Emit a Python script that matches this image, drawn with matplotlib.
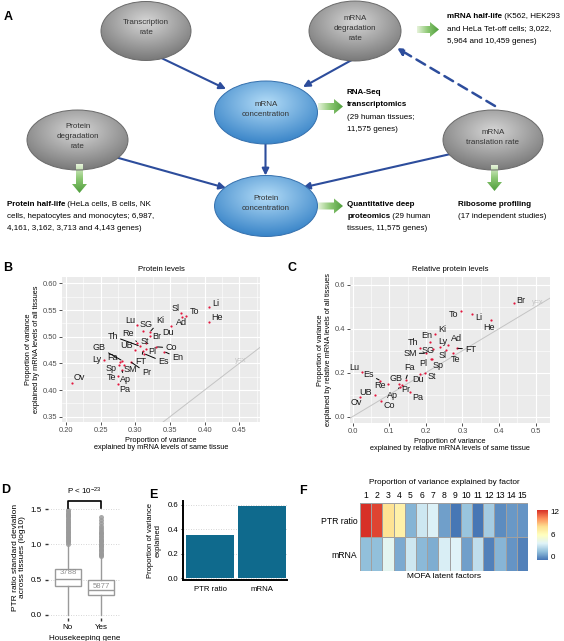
import numpy as np
import matplotlib
matplotlib.use("Agg")
import matplotlib.pyplot as plt
from matplotlib.patches import Ellipse, FancyArrow, FancyArrowPatch
from matplotlib.colors import LinearSegmentedColormap

plt.rcParams["font.family"] = ["Liberation Sans", "DejaVu Sans"]
plt.rcParams["mathtext.fontset"] = "custom"
plt.rcParams["mathtext.rm"] = "Liberation Sans"
plt.rcParams["mathtext.it"] = "Liberation Sans:italic"
plt.rcParams["mathtext.bf"] = "Liberation Sans:bold"

W, H = 564, 641
FS_A = 5.8

# ==========================================================
# DATA
# ==========================================================

tissues = ["Ad", "Ap", "Br", "Co", "Du", "En", "Es", "FT", "Fa", "GB",
           "He", "Ki", "Li", "Lu", "Ly", "Ov", "Pa", "Pl", "Pr", "Re",
           "SG", "SM", "Sl", "Sp", "St", "Te", "Th", "To", "UB"]

# B: protein levels
b_same_tissue = [0.368, 0.280, 0.321, 0.330, 0.351, 0.342, 0.313, 0.311, 0.278, 0.281,
                 0.406, 0.321, 0.406, 0.303, 0.255, 0.208, 0.275, 0.315, 0.293, 0.303,
                 0.311, 0.283, 0.366, 0.276, 0.315, 0.275, 0.306, 0.373, 0.299]
b_all_tissues = [0.5375, 0.438, 0.502, 0.481, 0.520, 0.472, 0.468, 0.474, 0.453, 0.455,
                 0.528, 0.509, 0.555, 0.522, 0.456, 0.414, 0.412, 0.4775, 0.453, 0.489,
                 0.511, 0.446, 0.545, 0.447, 0.4888, 0.427, 0.4825, 0.539, 0.476]

# C: relative protein levels
c_same_tissue = [0.261, 0.129, 0.441, 0.077, 0.184, 0.211, 0.076, 0.284, 0.145, 0.127,
                 0.379, 0.225, 0.325, 0.027, 0.238, 0.020, 0.156, 0.213, 0.136, 0.097,
                 0.220, 0.200, 0.256, 0.218, 0.197, 0.273, 0.184, 0.295, 0.061]
c_all_tissues = [0.326, 0.136, 0.515, 0.073, 0.194, 0.341, 0.164, 0.311, 0.167, 0.148,
                 0.439, 0.376, 0.467, 0.205, 0.315, 0.091, 0.114, 0.261, 0.144, 0.148,
                 0.306, 0.288, 0.303, 0.262, 0.200, 0.288, 0.311, 0.482, 0.098]

# D: PTR ratio SD by housekeeping status
hk_groups = ["No", "Yes"]
hk_counts = ["3788", "5877"]
hk_q1 = [0.41, 0.28]
hk_median = [0.51, 0.35]
hk_q3 = [0.65, 0.49]
hk_whislo = [0.0, 0.0]
hk_whishi = [1.0, 0.82]
hk_outliers_no = [1.01, 1.03, 1.05, 1.06, 1.08, 1.10, 1.11, 1.13, 1.15, 1.17, 1.18,
                  1.20, 1.22, 1.24, 1.25, 1.27, 1.29, 1.31, 1.32, 1.34, 1.36, 1.38,
                  1.40, 1.41, 1.43, 1.45, 1.47, 1.48]
hk_outliers_yes = [0.83, 0.85, 0.87, 0.88, 0.90, 0.92, 0.94, 0.96, 0.97, 0.99, 1.01,
                   1.03, 1.05, 1.06, 1.08, 1.10, 1.12, 1.14, 1.16, 1.18, 1.20, 1.23,
                   1.26, 1.30, 1.34, 1.38]

# E: proportion of variance explained
e_views = ["PTR ratio", "mRNA"]
e_variance = [0.355, 0.59]

# F: MOFA variance explained per factor
f_factors = [str(i) for i in range(1, 16)]
f_views = ["PTR ratio", "mRNA"]
f_ptr = [12.5, 12.0, 7.8, 6.8, 0.9, 3.0, 3.4, 0.3, -0.9, 1.5, -0.9, 1.8, -0.3, 0.1, 0.0]
f_mrna = [1.3, 1.3, 3.8, 0.6, 3.0, 1.1, 0.7, 3.3, 3.5, 0.3, 2.6, -0.6, 1.0, 0.0, -0.6]
f_ticks = [0, 6, 12]

# label offsets (pixels) for the scatter panels
b_offsets = [(-1, -6), (4, -10), (7, -1), (15, -1), (-3, -6), (13, -6), (19, -8), (-2, -11),
             (-8, 4), (-23, 13), (8, 4), (10, 11), (7, 4), (-7, 4), (-7, 1), (8, 5),
             (7, -6), (6, -3), (16, -11), (-9, 9), (3, 6), (7, -4), (-6, 4), (-8, -4),
             (-1, 1), (-7, -2), (-27, 10), (9, 4), (-8, 4)]
c_offsets = [(8, 6), (-7, -9), (7, 3), (8, -5), (-2, -6), (-3, 6), (-12, 6), (14, -1),
             (4, 12), (-3, 6), (-2, -7), (7, 4), (7, -4), (-8, 4), (3, 6), (-4, -6),
             (8, -6), (-7, -4), (3, -5), (-8, -1), (-5, -1), (-16, 0), (-4, -6), (6, -6),
             (7, -4), (3, -6), (-7, 6), (-7, -4), (-9, 3)]


# ==========================================================
# HELPERS
# ==========================================================

def px_axes(fig, x0, y0, x1, y1):
    return fig.add_axes([x0 / W, 1 - y1 / H, (x1 - x0) / W, (y1 - y0) / H])


def gradient_ellipse(ax, cx, cy, w, h, inner, outer, edge, label):
    ell = Ellipse((cx, cy), w, h, facecolor="none", edgecolor=edge, lw=0.7, zorder=3)
    ax.add_patch(ell)
    yy, xx = np.mgrid[-1:1:150j, -1:1:150j]
    r = np.sqrt(xx ** 2 + (yy + 0.3) ** 2)
    cmap = LinearSegmentedColormap.from_list("g", [inner, outer])
    im = ax.imshow(r, cmap=cmap, vmin=0, vmax=1.45, origin="upper",
                   extent=(cx - w / 2, cx + w / 2, cy + h / 2, cy - h / 2),
                   aspect="auto", interpolation="bilinear", zorder=2)
    im.set_clip_path(ell)
    ax.text(cx, cy - 3, label, ha="center", va="center", fontsize=FS_A,
            color="#333333", linespacing=1.6, zorder=4)


def green_arrow(ax, x0, y0, x1, y1):
    arr = FancyArrow(x0, y0, x1 - x0, y1 - y0, width=7, head_width=15,
                     head_length=9, length_includes_head=True,
                     fc="none", ec="none")
    ax.add_patch(arr)
    cmap = LinearSegmentedColormap.from_list("gr", ["#e6f3da", "#8cc773", "#4f9e3c"])
    if y0 == y1:
        grad = np.linspace(0, 1, 60)[None, :]
        ext = (x0, x1, y0 + 8, y0 - 8)
    else:
        grad = np.linspace(0, 1, 60)[:, None]
        ext = (x0 - 8, x0 + 8, y1, y0)
    im = ax.imshow(grad, cmap=cmap, extent=ext, origin="upper", aspect="auto",
                   interpolation="bilinear", zorder=2)
    im.set_clip_path(arr)


def blue_arrow(ax, p0, p1, dashed=False):
    arr = FancyArrowPatch(p0, p1, arrowstyle="-|>", mutation_scale=10,
                          color="#2d4d9c", lw=1.5 if not dashed else 1.8,
                          linestyle=(0, (4, 2.5)) if dashed else "-",
                          shrinkA=0, shrinkB=0, zorder=1)
    ax.add_patch(arr)


def rich_line(ax, x, y, bold, rest):
    t = ax.text(x, y, bold, fontsize=FS_A, fontweight="bold", va="center", ha="left")
    ax.annotate(rest, xy=(1, 0.5), xycoords=t, fontsize=FS_A, va="center", ha="left")


def plain_line(ax, x, y, s, bold=False):
    ax.text(x, y, s, fontsize=FS_A, fontweight="bold" if bold else "normal", va="center")


def gg_style(ax):
    ax.set_facecolor("#EBEBEB")
    for s in ax.spines.values():
        s.set_visible(False)
    ax.grid(True, which="major", color="white", lw=0.8)
    ax.grid(True, which="minor", color="white", lw=0.4)
    ax.set_axisbelow(True)
    ax.tick_params(which="major", length=2, width=0.6, color="#333333",
                   labelsize=5.4, labelcolor="#4d4d4d", pad=1.5)
    ax.tick_params(which="minor", length=0)


def label_points(ax, xs, ys, names, offsets):
    ax.scatter(xs, ys, s=2.5, color="#e3173e", zorder=3, lw=0)
    for x, y, n, (dx, dy) in zip(xs, ys, names, offsets):
        props = None
        if np.hypot(dx, dy) > 10.5:
            props = dict(arrowstyle="-", color="black", lw=0.7, shrinkA=0, shrinkB=1)
        ax.annotate(n, xy=(x, y), xytext=(dx, dy), textcoords="offset pixels",
                    fontsize=6.5, ha="center", va="center", color="#1a1a1a",
                    arrowprops=props, zorder=4)


# ==========================================================
# FIGURE
# ==========================================================

fig = plt.figure(figsize=(W / 100, H / 100), dpi=100)

# ---------------- Panel A: diagram ----------------
axA = fig.add_axes([0, 1 - 240 / H, 1, 240 / H])
axA.axis("off")

blue_arrow(axA, (153, 54), (226, 89))
blue_arrow(axA, (359, 56), (303, 87))
blue_arrow(axA, (265.5, 137), (265.5, 175.5))
blue_arrow(axA, (115, 157), (226, 188))
blue_arrow(axA, (455, 153), (303, 187.5))
blue_arrow(axA, (495, 106), (397, 48), dashed=True)

gray_in, gray_out, gray_edge = "#d6d6d6", "#6f6f6f", "#6a6a6a"
blue_in, blue_out, blue_edge = "#b3dcf7", "#2c7bc3", "#3570ad"
gradient_ellipse(axA, 146, 31, 90, 59, gray_in, gray_out, gray_edge, "Transcription\nrate")
gradient_ellipse(axA, 355, 31, 92, 60, gray_in, gray_out, gray_edge, "mRNA\ndegradation\nrate")
gradient_ellipse(axA, 266, 112.5, 103, 63, blue_in, blue_out, blue_edge, "mRNA\nconcentration")
gradient_ellipse(axA, 77.5, 140, 101, 60, gray_in, gray_out, gray_edge, "Protein\ndegradation\nrate")
gradient_ellipse(axA, 266, 206, 103, 61, blue_in, blue_out, blue_edge, "Protein\nconcentration")
gradient_ellipse(axA, 493, 140, 100, 60, gray_in, gray_out, gray_edge, "mRNA\ntranslation rate")

green_arrow(axA, 417, 29.5, 439, 29.5)
green_arrow(axA, 318, 106.5, 343, 106.5)
green_arrow(axA, 318, 206, 343, 206)
green_arrow(axA, 79.5, 164, 79.5, 193)
green_arrow(axA, 494.5, 165, 494.5, 191)

rich_line(axA, 447, 16.2, "mRNA half-life", " (K562, HEK293")
plain_line(axA, 447, 28.9, "and HeLa Tet-off cells; 3,022,")
plain_line(axA, 447, 41.5, "5,964 and 10,459 genes)")

plain_line(axA, 346.6, 92, "RNA-Seq", bold=True)
plain_line(axA, 346.6, 104.7, "transcriptomics", bold=True)
plain_line(axA, 346.6, 117.3, "(29 human tissues;")
plain_line(axA, 346.6, 129.2, "11,575 genes)")

rich_line(axA, 7, 205, "Protein half-life", " (HeLa cells, B cells, NK")
plain_line(axA, 7, 216.6, "cells, hepatocytes and monocytes; 6,987,")
plain_line(axA, 7, 228.2, "4,161, 3,162, 3,713 and 4,143 genes)")

plain_line(axA, 347.3, 205, "Quantitative deep", bold=True)
rich_line(axA, 347.3, 216.6, "proteomics", " (29 human")
plain_line(axA, 347.3, 228.2, "tissues, 11,575 genes)")

plain_line(axA, 458.5, 205, "Ribosome profiling", bold=True)
plain_line(axA, 458.5, 216.6, "(17 independent studies)")

axA.set_xlim(0, W)
axA.set_ylim(240, 0)

# ---------------- Panel B ----------------
axB = px_axes(fig, 62, 277, 260, 422)
gg_style(axB)
axB.set_xlim(0.194, 0.48)
axB.set_ylim(0.34, 0.612)
axB.set_xticks([0.20, 0.25, 0.30, 0.35, 0.40, 0.45])
axB.set_yticks([0.35, 0.40, 0.45, 0.50, 0.55, 0.60])
axB.set_xticks([0.225, 0.275, 0.325, 0.375, 0.425, 0.475], minor=True)
axB.set_yticks([0.375, 0.425, 0.475, 0.525, 0.575], minor=True)
axB.xaxis.set_major_formatter(matplotlib.ticker.FormatStrFormatter("%.2f"))
axB.yaxis.set_major_formatter(matplotlib.ticker.FormatStrFormatter("%.2f"))
axB.plot([0.3, 0.5], [0.3, 0.5], color="#c4c4c4", lw=0.7, zorder=2)
axB.text(0.452, 0.456, "y=x", fontsize=5.2, color="#c4c4c4", ha="center", va="center")
label_points(axB, b_same_tissue, b_all_tissues, tissues, b_offsets)
axB.set_title("Protein levels", fontsize=5.6, pad=4)
axB.set_xlabel("Proportion of variance\nexplained by mRNA levels of same tissue",
               fontsize=5.3, labelpad=2, linespacing=1.1)
axB.set_ylabel("Proportion of variance\nexplained by mRNA levels of all tissues",
               fontsize=5.3, labelpad=2, linespacing=1.1)

# ---------------- Panel C ----------------
axC = px_axes(fig, 350, 277, 550, 423)
gg_style(axC)
axC.set_xlim(-0.007, 0.539)
axC.set_ylim(-0.029, 0.635)
axC.set_xticks([0.0, 0.1, 0.2, 0.3, 0.4, 0.5])
axC.set_yticks([0.0, 0.2, 0.4, 0.6])
axC.set_xticks([0.05, 0.15, 0.25, 0.35, 0.45], minor=True)
axC.set_yticks([0.1, 0.3, 0.5], minor=True)
axC.plot([-0.1, 0.6], [-0.1, 0.6], color="#c4c4c4", lw=0.7, zorder=2)
axC.text(0.505, 0.52, "y=x", fontsize=5.2, color="#c4c4c4", ha="center", va="center")
label_points(axC, c_same_tissue, c_all_tissues, tissues, c_offsets)
axC.set_title("Relative protein levels", fontsize=5.6, pad=4)
axC.set_xlabel("Proportion of variance\nexplained by relative mRNA levels of same tissue",
               fontsize=5.3, labelpad=2, linespacing=1.1)
axC.set_ylabel("Proportion of variance\nexplained by relative mRNA levels of all tissues",
               fontsize=5.3, labelpad=2, linespacing=1.1)

# ---------------- Panel D ----------------
axD = px_axes(fig, 48, 497, 121, 618)
stats = []
for g, q1, med, q3, lo, hi, fl in zip(hk_groups, hk_q1, hk_median, hk_q3, hk_whislo,
                                      hk_whishi, [hk_outliers_no, hk_outliers_yes]):
    stats.append(dict(label=g, q1=q1, med=med, q3=q3, whislo=lo, whishi=hi, fliers=fl))
gcol = "#9a9a9a"
axD.bxp(stats, positions=[1, 2], widths=0.8, showcaps=False, patch_artist=True,
        boxprops=dict(facecolor="white", edgecolor=gcol, lw=1),
        medianprops=dict(color=gcol, lw=1),
        whiskerprops=dict(color=gcol, lw=1),
        flierprops=dict(marker="o", markerfacecolor=gcol, markeredgecolor="none",
                        markersize=3.6, alpha=0.85))
for i, c in enumerate(hk_counts):
    ypos = [0.6, 0.405][i]
    axD.text(i + 1, ypos, c, fontsize=5.6, color="#8f8f8f", ha="center", va="center")
axD.set_xlim(0.4, 2.6)
axD.set_ylim(-0.043, 1.67)
axD.set_yticks([0.0, 0.5, 1.0, 1.5])
axD.yaxis.set_major_formatter(matplotlib.ticker.FormatStrFormatter("%.1f"))
for s in axD.spines.values():
    s.set_visible(False)
axD.grid(True, axis="y", color="#c8c8c8", lw=0.6, linestyle=(0, (1, 2)))
axD.set_axisbelow(True)
axD.tick_params(length=2.5, width=1, color="#333333", labelsize=5.8, pad=2)
axD.plot([1, 1, 2, 2], [1.51, 1.62, 1.62, 1.51], color="black", lw=1.2, clip_on=False)
axD.text(1.5, 1.75, r"P < 10$^{\mathrm{-23}}$", fontsize=5.8, ha="center", va="center")
axD.set_xlabel("Housekeeping gene", fontsize=5.8, labelpad=3)
axD.set_ylabel("PTR ratio standard deviation\nacross tissues (log10)", fontsize=6.0,
               labelpad=3, linespacing=1.05)

# ---------------- Panel E ----------------
axE = px_axes(fig, 183, 501, 287, 580)
axE.bar([1, 2], e_variance, width=0.93, color="#0f6a8d", zorder=3)
axE.set_xlim(0.48, 2.48)
axE.set_ylim(-0.014, 0.63)
axE.set_xticks([1, 2])
axE.set_xticklabels(e_views)
axE.set_yticks([0.0, 0.2, 0.4, 0.6])
axE.yaxis.set_major_formatter(matplotlib.ticker.FormatStrFormatter("%.1f"))
axE.spines["top"].set_visible(False)
axE.spines["right"].set_visible(False)
axE.spines["left"].set_linewidth(1.4)
axE.spines["bottom"].set_linewidth(1.4)
axE.grid(True, axis="y", color="#c8c8c8", lw=0.6, linestyle=(0, (1, 2)))
axE.tick_params(axis="x", length=0, labelsize=5.6, pad=4)
axE.tick_params(axis="y", length=1.5, width=0.6, labelsize=5.6, pad=2)
axE.set_ylabel("Proportion of variance\nexplained", fontsize=5.5, labelpad=4,
               linespacing=1.1)

# ---------------- Panel F ----------------
axF = px_axes(fig, 360, 503, 528, 571)
f_values = np.array([f_ptr, f_mrna])
f_cmap = LinearSegmentedColormap.from_list(
    "rdylbu", ["#4575b4", "#91bfdb", "#e0f3f8", "#ffffbf", "#fee090", "#fc8d59", "#d73027"])
vmin, vmax = -1.0, 12.5
mesh = axF.pcolormesh(f_values, cmap=f_cmap, vmin=vmin, vmax=vmax,
                      edgecolors="#a0a0a0", linewidth=0.5)
axF.set_xlim(0, 15)
axF.set_ylim(2, 0)
for s in axF.spines.values():
    s.set_visible(False)
axF.set_xticks(np.arange(15) + 0.5)
axF.set_xticklabels(f_factors)
axF.xaxis.tick_top()
axF.set_yticks([0.5, 1.5])
axF.set_yticklabels(f_views)
axF.tick_params(length=0, labelsize=6.2, pad=2)
axF.set_xlabel("MOFA latent factors", fontsize=6.0, labelpad=1.5)
axF.set_title("Proportion of variance explained by factor", fontsize=5.9, pad=14)

axCB = px_axes(fig, 537, 510, 548, 560)
cb = fig.colorbar(mesh, cax=axCB, ticks=f_ticks)
cb.outline.set_visible(False)
cb.ax.tick_params(length=0, labelsize=5.8, pad=2)

# ---------------- panel letters ----------------
for letter, x, y in [("A", 8, 17), ("B", 8, 268), ("C", 292, 268),
                     ("D", 6, 490), ("E", 153, 495), ("F", 303, 491)]:
    fig.text(x / W, 1 - y / H, letter, fontsize=9, fontweight="bold",
             ha="center", va="center")

fig.savefig("out.png", dpi=100)
